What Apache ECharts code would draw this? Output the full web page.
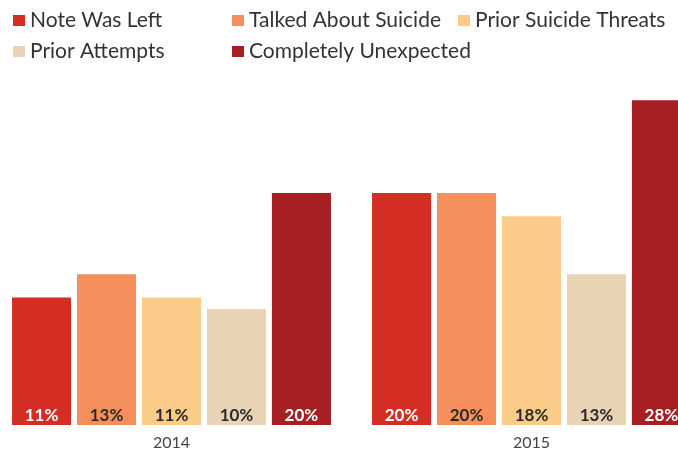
<!DOCTYPE html>
<html><head><meta charset="utf-8">
<script src="https://cdn.jsdelivr.net/npm/echarts@6/dist/echarts.min.js"></script>
<style>html,body{margin:0;padding:0;background:#fff;overflow:hidden}#c{width:678px;height:449px}</style>
</head><body><div id="c"></div>
<script>
const categories = ['2014', '2015'];
const seriesNames = ['Note Was Left', 'Talked About Suicide', 'Prior Suicide Threats', 'Prior Attempts', 'Completely Unexpected'];
const noteWasLeft = [11, 20];
const talkedAboutSuicide = [13, 20];
const priorSuicideThreats = [11, 18];
const priorAttempts = [10, 13];
const completelyUnexpected = [20, 28];
const seriesValues = [noteWasLeft, talkedAboutSuicide, priorSuicideThreats, priorAttempts, completelyUnexpected];
const colors = ['#D42E24', '#F58F5B', '#FBCB89', '#E8D3B4', '#A61F22'];
const labelColors = ['#ffffff', '#2b2b2b', '#2b2b2b', '#2b2b2b', '#ffffff'];
const FONT = 'Lato';
const legendPos = [[8, 5], [227, 5], [453, 5], [8, 36], [227, 36]];

const chart = echarts.init(document.getElementById('c'), null, {renderer: 'canvas'});
chart.setOption({
  animation: false,
  textStyle: {fontFamily: FONT},
  legend: seriesNames.map((n, i) => ({
    data: [n], left: legendPos[i][0], top: legendPos[i][1],
    itemWidth: 12, itemHeight: 11, itemGap: 4, icon: 'rect',
    textStyle: {fontFamily: FONT, fontSize: 21, color: '#333'}
  })),
  grid: {left: -8.5, width: 720, bottom: 24, top: 77, outerBoundsMode: 'none', containLabel: false},
  xAxis: {
    type: 'category', data: categories,
    axisLine: {show: false}, axisTick: {show: false},
    axisLabel: {fontFamily: FONT, fontSize: 16, color: '#444', margin: 10}
  },
  yAxis: {type: 'value', min: 0, max: 30, show: false},
  series: seriesNames.map((n, i) => ({
    name: n, type: 'bar', data: seriesValues[i],
    barGap: '10%', barCategoryGap: '11.4%',
    itemStyle: {color: colors[i]},
    label: {show: true, position: 'insideBottom', distance: 1,
      formatter: p => p.value + '%', fontFamily: FONT, fontWeight: 'bold',
      fontSize: 17, color: labelColors[i]}
  }))
});
</script></body></html>
